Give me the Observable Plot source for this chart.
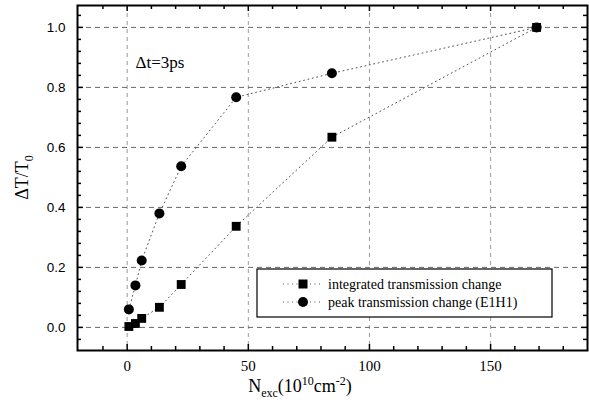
<!DOCTYPE html>
<html><head><meta charset="utf-8">
<script src="https://cdn.jsdelivr.net/npm/d3@7"></script>
<script src="https://cdn.jsdelivr.net/npm/@observablehq/plot@0.6"></script>
<style>body{margin:0;background:#fff} #chart{width:589px;height:408px}</style>
</head><body><div id="chart"></div>
<script>
// ---- data ----
const nExc = [0.7, 3.4, 6, 13.3, 22.3, 45, 84.5, 169];
const integratedChange = [0.003, 0.013, 0.03, 0.067, 0.143, 0.337, 0.634, 1.0];
const peakChange = [0.06, 0.14, 0.223, 0.38, 0.537, 0.767, 0.847, 1.0];
const seriesNames = ["integrated transmission change", "peak transmission change (E1H1)"];
const xMajorTicks = [0, 50, 100, 150];
const yMajorTicks = [0, 0.2, 0.4, 0.6, 0.8, 1.0];
const xMinorTicks = [-10, 10, 20, 30, 40, 60, 70, 80, 90, 110, 120, 130, 140, 160, 170, 180];
const yMinorTicks = [-0.04, 0.04, 0.08, 0.12, 0.16, 0.24, 0.28, 0.32, 0.36, 0.44, 0.48, 0.52, 0.56, 0.64, 0.68, 0.72, 0.76, 0.84, 0.88, 0.92, 0.96, 1.04];
const annotation = "Δt=3ps";

// ---- layout ----
const W = 589, H = 408, mL = 77, mR = 2, mT = 5, mB = 58;
const innerW = W - mL - mR, innerH = H - mT - mB;
const majorLen = 6, minorLen = 4;
const serif = "'Liberation Serif', 'Times New Roman', serif";
const sans = "'Liberation Sans', Arial, sans-serif";

const rows = nExc.map((x, i) => ({x, integrated: integratedChange[i], peak: peakChange[i]}));

const tickMarks = [];
for (const [ticks, len] of [[xMajorTicks, majorLen], [xMinorTicks, minorLen]]) {
  tickMarks.push(Plot.tickX(ticks, {insetTop: innerH - len, stroke: "#000", strokeWidth: 1.5}));
  tickMarks.push(Plot.tickX(ticks, {insetBottom: innerH - len, stroke: "#000", strokeWidth: 1.5}));
}
for (const [ticks, len] of [[yMajorTicks, majorLen], [yMinorTicks, minorLen]]) {
  tickMarks.push(Plot.tickY(ticks, {insetRight: innerW - len, stroke: "#000", strokeWidth: 1.5}));
  tickMarks.push(Plot.tickY(ticks, {insetLeft: innerW - len, stroke: "#000", strokeWidth: 1.5}));
}

const chart = Plot.plot({
  width: W, height: H,
  marginLeft: mL, marginRight: mR, marginTop: mT, marginBottom: mB,
  style: {background: "#fff", color: "#000"},
  x: {domain: [-20.5, 190]},
  y: {domain: [-0.077, 1.073]},
  marks: [
    Plot.ruleX(xMajorTicks, {stroke: "#9a9a9a", strokeDasharray: "4,4", strokeWidth: 1}),
    Plot.ruleY(yMajorTicks, {stroke: "#666", strokeDasharray: "5,4", strokeWidth: 1}),
    Plot.line(rows, {x: "x", y: "integrated", stroke: "#555", strokeDasharray: "1,3.5", strokeWidth: 1}),
    Plot.line(rows, {x: "x", y: "peak", stroke: "#555", strokeDasharray: "1,3.5", strokeWidth: 1}),
    Plot.dot(rows, {x: "x", y: "integrated", symbol: "square", r: 5, fill: "#000", stroke: "none"}),
    Plot.dot(rows, {x: "x", y: "peak", symbol: "circle", r: 5, fill: "#000", stroke: "none"}),
    ...tickMarks,
    Plot.axisX(xMajorTicks, {tickSize: 0, tickPadding: 10, fontSize: 15, label: null, tickFormat: d => String(d)}),
    Plot.axisY(yMajorTicks, {tickSize: 0, tickPadding: 12, fontSize: 13.5, label: null, tickFormat: d3.format(".1f")}),
    Plot.frame({stroke: "#000", strokeWidth: 2}),
    Plot.text([annotation], {frameAnchor: "top-left", dx: 58, dy: 50, textAnchor: "start", fontSize: 17, fill: "#000"})
  ]
});
document.getElementById("chart").appendChild(chart);

const svg = d3.select(chart);
// force font families with inline style
svg.selectAll('g[aria-label="x-axis tick label"] text').style("font-family", serif);
svg.selectAll('g[aria-label="y-axis tick label"] text').style("font-family", sans);
svg.selectAll('g[aria-label="text"] text').style("font-family", serif);

// ---- axis titles with sub/superscripts ----
const yt = svg.append("text")
  .attr("transform", `translate(28,${mT + innerH / 2}) rotate(-90)`)
  .attr("text-anchor", "middle").style("font-family", serif).attr("font-size", 18).attr("fill", "#000");
yt.append("tspan").text("ΔT/T");
yt.append("tspan").attr("font-size", 12).attr("dy", 5).text("0");

const xt = svg.append("text")
  .attr("x", 300).attr("y", 392)
  .attr("text-anchor", "middle").style("font-family", serif).attr("font-size", 18).attr("fill", "#000");
xt.append("tspan").text("N");
xt.append("tspan").attr("font-size", 12).attr("dy", 5).text("exc");
xt.append("tspan").attr("dy", -5).text("(10");
xt.append("tspan").attr("font-size", 12).attr("dy", -7).text("10");
xt.append("tspan").attr("dy", 7).text("cm");
xt.append("tspan").attr("font-size", 12).attr("dy", -7).text("-2");
xt.append("tspan").attr("dy", 7).text(")");

// ---- legend ----
const box = {x: 257, y: 269, w: 295, h: 48};
const rowY = [284, 302];
const lineX = [283, 323], markX = 303, textX = 328;
const lg = svg.append("g");
lg.append("rect").attr("x", box.x).attr("y", box.y).attr("width", box.w).attr("height", box.h)
  .attr("fill", "#fff").attr("stroke", "#000").attr("stroke-width", 1.2);
seriesNames.forEach((name, i) => {
  lg.append("line").attr("x1", lineX[0]).attr("x2", lineX[1]).attr("y1", rowY[i]).attr("y2", rowY[i])
    .attr("stroke", "#555").attr("stroke-width", 1).attr("stroke-dasharray", "1,3.5");
  if (i === 0) lg.append("rect").attr("x", markX - 4.5).attr("y", rowY[i] - 4.5).attr("width", 9).attr("height", 9).attr("fill", "#000");
  else lg.append("circle").attr("cx", markX).attr("cy", rowY[i]).attr("r", 5).attr("fill", "#000");
  lg.append("text").attr("x", textX).attr("y", rowY[i]).attr("dy", "0.35em").attr("text-anchor", "start")
    .style("font-family", serif).attr("font-size", 14).attr("fill", "#000").text(name);
});
</script>
</body></html>
